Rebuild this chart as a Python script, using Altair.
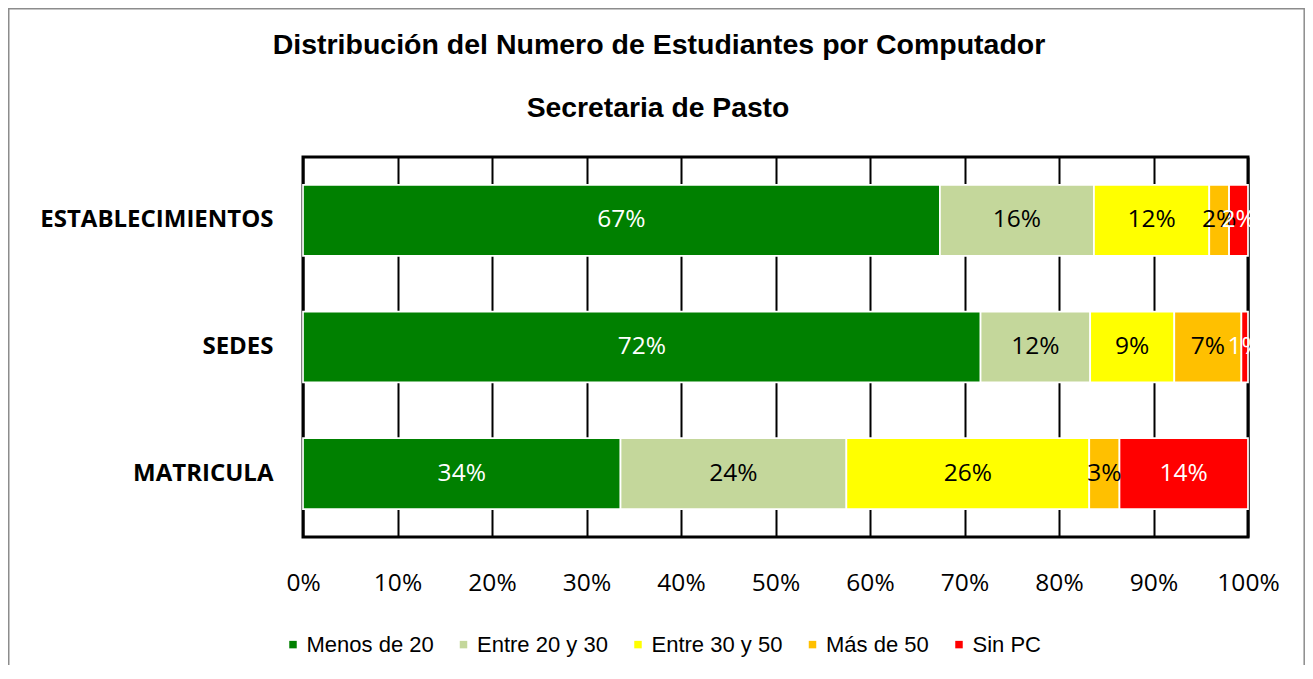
import altair as alt
import pandas as pd

# ---- data ----
rows = ["ESTABLECIMIENTOS", "SEDES", "MATRICULA"]
cats = ["Menos de 20", "Entre 20 y 30", "Entre 30 y 50", "Más de 50", "Sin PC"]
colors = ["#008000", "#C4D79B", "#FFFF00", "#FFC000", "#FF0000"]
menos_20 = [0.674, 0.717, 0.336]
entre_20_30 = [0.163, 0.116, 0.239]
entre_30_50 = [0.122, 0.089, 0.257]
mas_50 = [0.021, 0.071, 0.032]
sin_pc = [0.020, 0.007, 0.136]
x_ticks = [0, 0.1, 0.2, 0.3, 0.4, 0.5, 0.6, 0.7, 0.8, 0.9, 1.0]
title_text = "Distribución del Numero de Estudiantes por Computador"
subtitle_text = "Secretaria de Pasto"

series = [menos_20, entre_20_30, entre_30_50, mas_50, sin_pc]
records = []
for ci, (cat, vals) in enumerate(zip(cats, series)):
    for ri, row in enumerate(rows):
        records.append({"row": row, "cat": cat, "k": ci, "value": vals[ri]})
df = pd.DataFrame(records)

base = alt.Chart(df).transform_stack(
    stack="value", groupby=["row"], as_=["x0", "x1"],
    sort=[alt.SortField("k", order="ascending")]
).transform_calculate(mid="(datum.x0 + datum.x1) / 2")

y_enc = alt.Y(
    "row:N", sort=rows,
    scale=alt.Scale(paddingInner=0.44, paddingOuter=0.22),
    axis=alt.Axis(title=None, labelFont="Open Sans", labelFontWeight="bold",
                  labelFontSize=24, labelColor="black", labelPadding=30,
                  labelLimit=400, ticks=False, domain=False, grid=False),
)

bars = base.mark_bar(stroke="white", strokeWidth=1.7).encode(
    x=alt.X("x0:Q", scale=alt.Scale(domain=[0, 1], nice=False),
            axis=alt.Axis(title=None, format="%", values=x_ticks, grid=True,
                          gridColor="black", gridWidth=2, gridOpacity=1,
                          domain=False, ticks=False, tickSize=0,
                          labelFont="Open Sans", labelFontSize=24.5,
                          labelColor="black", labelPadding=53,
                          labelBaseline="alphabetic", labelFlush=False)),
    x2="x1:Q",
    y=y_enc,
    color=alt.Color("cat:N", sort=cats,
                    scale=alt.Scale(domain=cats, range=colors),
                    legend=alt.Legend(title=None, orient="none", direction="horizontal",
                                      legendX=-21, legendY=476.6,
                                      symbolType="square", symbolSize=56,
                                      symbolStrokeWidth=0, labelFont="Liberation Sans",
                                      labelFontSize=22, labelColor="black",
                                      labelOffset=2.5, columnPadding=18.5,
                                      columns=5)),
)

labels = base.mark_text(font="Open Sans", fontSize=24.5, baseline="middle", align="center").encode(
    x="mid:Q",
    y=alt.Y("row:N", sort=rows),
    text=alt.Text("value:Q", format=".0%"),
    color=alt.condition("datum.k == 0 || datum.k == 4", alt.value("white"), alt.value("black")),
)

one = alt.Data(values=[{}])
title_mark = alt.Chart(one).mark_text(
    text=title_text, font="Liberation Sans", fontWeight="bold", fontSize=28.5,
    align="center", baseline="alphabetic", color="black"
).encode(x=alt.value(356), y=alt.value(-103))

subtitle_mark = alt.Chart(one).mark_text(
    text=subtitle_text, font="Liberation Sans", fontWeight="bold", fontSize=28.3,
    align="center", baseline="alphabetic", color="black"
).encode(x=alt.value(355), y=alt.value(-40.3))

border = alt.Chart(one).mark_rect(fill="transparent", stroke="#8c8c8c", strokeWidth=1.5).encode(
    x=alt.value(-294.25), x2=alt.value(1001.2), y=alt.value(-148.25), y2=alt.value(600)
)

chart = alt.layer(border, bars, labels, title_mark, subtitle_mark).properties(
    width=945, height=380,
    padding={"left": 295, "top": 149, "right": 57, "bottom": 128},
    autosize=alt.AutoSizeParams(type="none"),
).configure_view(stroke="black", strokeWidth=3)

chart.save("out.html", embed_options={"renderer": "svg", "actions": False})
